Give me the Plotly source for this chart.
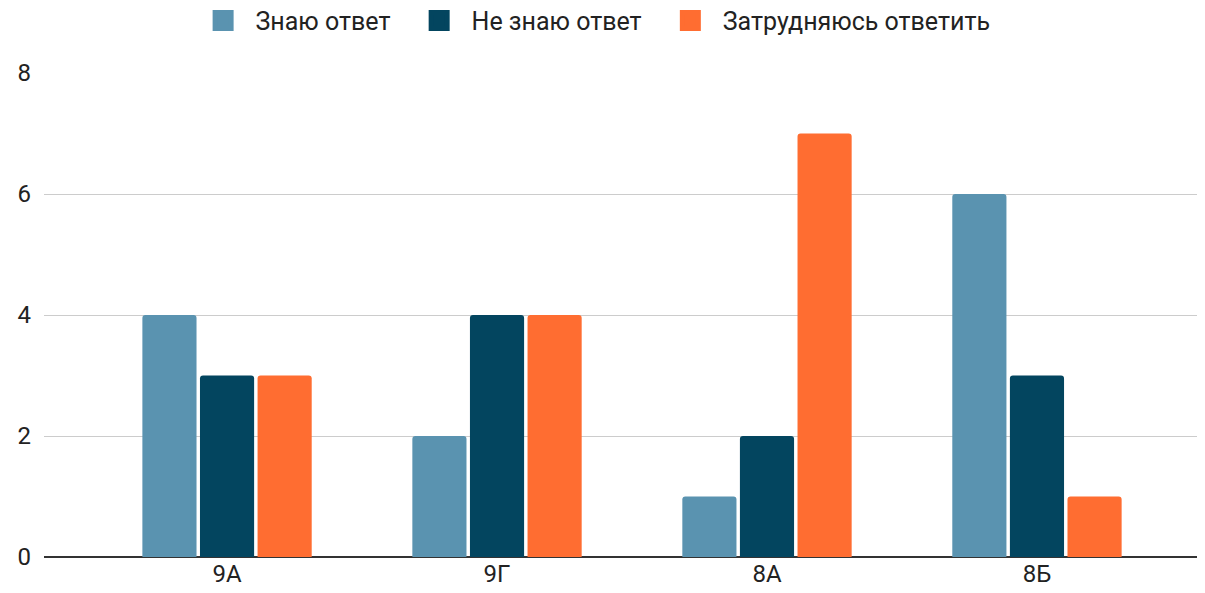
import plotly.graph_objects as go

classes = ['9А', '9Г', '8А', '8Б']
know = [4, 2, 1, 6]
dont_know = [3, 4, 2, 3]
unsure = [3, 4, 7, 1]

names = ['Знаю ответ', 'Не знаю ответ', 'Затрудняюсь ответить']
colors = ['#5A93B0', '#03455F', '#FF6D31']

pad_left = '\u00a0\u00a0'
pad_right = ['\u00a0\u00a0\u00a0\u2009', '\u00a0\u00a0\u00a0\u2009', '']

fig = go.Figure()
for name, vals, col, pr in zip(names, [know, dont_know, unsure], colors, pad_right):
    fig.add_trace(go.Bar(x=classes, y=vals, name=name, marker_color=col,
                         marker_line_width=0, showlegend=False))
    # legend-only marker; the outline makes the swatch a bit bigger
    fig.add_trace(go.Scatter(x=[None], y=[None], mode='markers',
                             name=pad_left + name + pr,
                             marker=dict(symbol='square', size=16, color=col,
                                         line=dict(color=col, width=5))))

# page body has an 8px margin, so the figure is 8px smaller and shifted
fig.update_layout(
    width=1197, height=585,
    barmode='group', bargap=0.36, bargroupgap=0.06,
    barcornerradius=3,
    plot_bgcolor='white', paper_bgcolor='white',
    margin=dict(l=36, r=2, t=65, b=36, autoexpand=False),
    font=dict(family='Roboto, Arial, sans-serif', size=24, color='#222222'),
    legend=dict(orientation='h', x=0.163, xanchor='left', y=0.978, yanchor='middle',
                xref='container', yref='container', font=dict(size=25)),
)
fig.update_xaxes(range=[-0.678, 3.615], showgrid=False, showline=False, ticks='',
                 automargin=False, tickfont=dict(size=24))
fig.update_yaxes(range=[0, 8], dtick=2, showgrid=True, gridcolor='#CCCCCC', gridwidth=1,
                 zeroline=True, zerolinecolor='#333333', zerolinewidth=1.5,
                 showline=False, ticklabelstandoff=12, automargin=False,
                 tickfont=dict(size=24))

fig.write_html("out.html")
